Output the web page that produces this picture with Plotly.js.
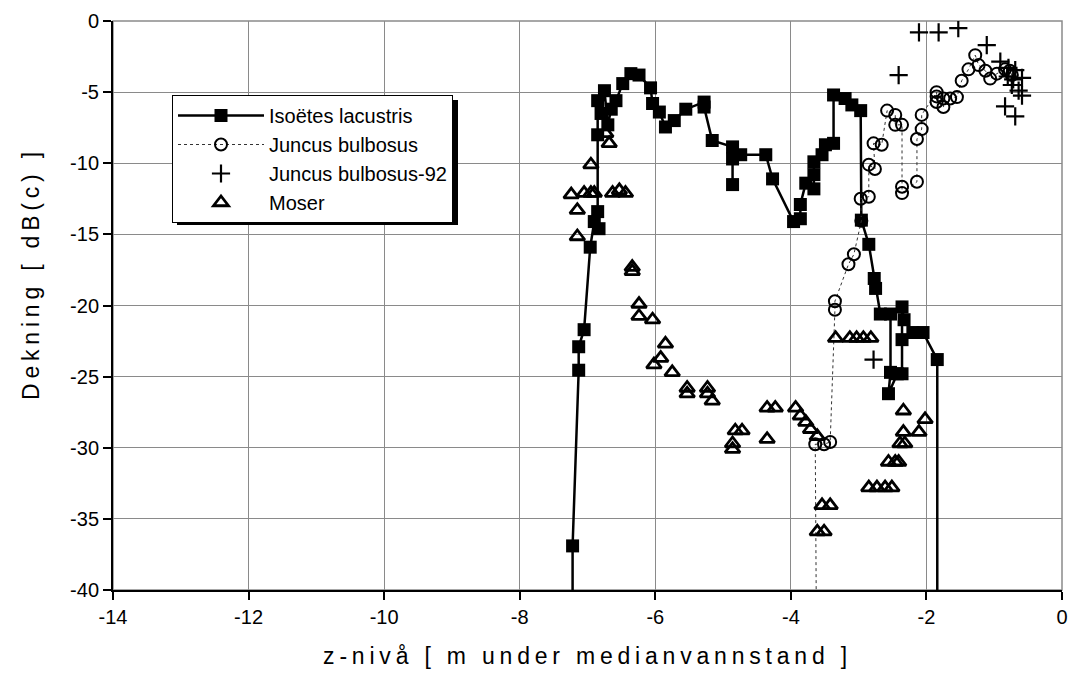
<!DOCTYPE html>
<html>
<head>
<meta charset="utf-8">
<script src="https://cdn.plot.ly/plotly-3.0.1.min.js"></script>
<style>
html,body{margin:0;padding:0;background:#fff;}
#chart{width:1074px;height:687px;}
#chart .xtitle, #chart .ytitle { letter-spacing: 4.8px; }
</style>
</head>
<body>
<div id="chart"></div>
<script>
// Isoëtes lacustris (filled squares, solid line)
const isoX = [-7.22,-7.22,-7.13,-7.13,-7.05,-6.96,-6.9,-6.83,-6.85,-6.85,-6.85,-6.8,-6.75,-6.7,-6.65,-6.58,-6.48,-6.36,-6.24,-6.07,-6.04,-5.94,-5.85,-5.72,-5.55,-5.28,-5.28,-5.16,-4.86,-4.86,-4.86,-4.74,-4.37,-4.27,-3.96,-3.86,-3.86,-3.78,-3.66,-3.66,-3.66,-3.54,-3.49,-3.37,-3.37,-3.2,-3.1,-2.97,-2.96,-2.85,-2.77,-2.75,-2.68,-2.53,-2.53,-2.56,-2.43,-2.36,-2.36,-2.36,-2.33,-2.2,-2.05,-1.84,-1.84];
const isoY = [-45,-36.9,-24.55,-22.9,-21.7,-15.9,-14.1,-14.6,-13.4,-8.0,-5.6,-6.5,-4.9,-7.3,-6.2,-5.6,-4.4,-3.7,-3.8,-4.7,-5.8,-6.4,-7.45,-7.0,-6.2,-5.7,-6.05,-8.4,-8.85,-11.5,-9.7,-9.4,-9.4,-11.1,-14.1,-13.9,-12.9,-11.4,-11.8,-10.8,-9.9,-9.4,-8.7,-8.6,-5.2,-5.45,-5.9,-6.3,-14.0,-15.7,-18.1,-18.8,-20.6,-20.6,-24.7,-26.2,-24.8,-24.8,-22.4,-20.1,-21.0,-21.9,-21.9,-23.8,-45];

// Juncus bulbosus (open circles, dotted line)
const jbX = [-3.62,-3.64,-3.51,-3.42,-3.35,-3.35,-3.15,-3.07,-2.96,-2.97,-2.85,-2.85,-2.76,-2.78,-2.66,-2.58,-2.46,-2.46,-2.36,-2.36,-2.36,-2.14,-2.14,-2.07,-2.07,-1.85,-1.85,-1.85,-1.75,-1.75,-1.65,-1.55,-1.48,-1.38,-1.28,-1.23,-1.13,-1.06,-0.96,-0.84,-0.77,-0.74];
const jbY = [-45,-29.75,-29.75,-29.6,-20.3,-19.7,-17.1,-16.4,-14.05,-12.5,-12.35,-10.1,-10.4,-8.6,-8.7,-6.3,-6.6,-7.3,-7.3,-11.65,-12.1,-11.3,-8.3,-7.6,-6.6,-5.0,-5.3,-5.7,-5.45,-6.05,-5.45,-5.35,-4.2,-3.4,-2.4,-3.1,-3.5,-4.05,-3.7,-3.4,-3.5,-3.8];

// Juncus bulbosus-92 (plus markers)
const jb92X = [-2.78,-2.41,-2.11,-1.82,-1.53,-1.11,-0.91,-0.79,-0.69,-0.8,-0.72,-0.59,-0.74,-0.64,-0.59,-0.84,-0.69];
const jb92Y = [-23.8,-3.8,-0.8,-0.8,-0.5,-1.7,-2.85,-3.3,-3.45,-3.9,-4.1,-4.0,-4.5,-4.9,-5.25,-6.0,-6.7];

// Moser (open triangles)
const mosX = [-7.24,-7.15,-7.15,-7.05,-6.95,-6.9,-6.95,-6.73,-6.68,-6.63,-6.53,-6.44,-6.34,-6.34,-6.24,-6.24,-6.04,-5.85,-5.92,-6.02,-5.75,-5.53,-5.53,-5.23,-5.23,-5.16,-4.86,-4.86,-4.82,-4.72,-4.35,-4.23,-4.35,-3.93,-3.86,-3.78,-3.71,-3.61,-3.54,-3.42,-3.61,-3.51,-3.34,-3.13,-3.03,-2.93,-2.82,-2.34,-2.02,-2.11,-2.34,-2.39,-2.32,-2.56,-2.46,-2.41,-2.85,-2.73,-2.61,-2.51];
const mosY = [-12.2,-13.3,-15.15,-12.1,-12.1,-12.1,-10.1,-7.9,-8.6,-12.1,-11.9,-12.1,-17.6,-17.3,-19.9,-20.75,-21.0,-22.7,-23.7,-24.15,-24.7,-25.8,-26.2,-25.8,-26.2,-26.7,-29.7,-30.1,-28.8,-28.8,-27.2,-27.2,-29.4,-27.2,-27.75,-28.2,-28.7,-29.2,-34.05,-34.05,-35.9,-35.9,-22.3,-22.3,-22.3,-22.3,-22.3,-27.4,-28.0,-28.9,-28.9,-29.7,-29.7,-31.0,-31.0,-31.0,-32.8,-32.8,-32.8,-32.8];

const seriesNames = ['Isoëtes lacustris','Juncus bulbosus','Juncus bulbosus-92','Moser'];
const xTickVals = [-14,-12,-10,-8,-6,-4,-2,0];
const xTickText = ['-14','-12','-10','-8','-6','-4','-2','0'];
const yTickVals = [0,-5,-10,-15,-20,-25,-30,-35,-40];
const yTickText = ['0','-5','-10','-15','-20','-25','-30','-35','-40'];

const FONT = 'Liberation Sans, Arial, sans-serif';

// plot-area geometry used to place the legend and its drop shadow
const ML = 113, MR = 12, MT = 21, MB = 97, W = 1074, H = 687;
const PW = W - ML - MR, PH = H - MT - MB;
const px2x = p => (p - ML) / PW;
const px2y = p => 1 - (p - MT) / PH;

const traces = [
  {x: isoX, y: isoY, name: seriesNames[0], type: 'scatter', mode: 'lines+markers', legendgroup: 'a',
   line: {color: '#000', width: 2.5}, marker: {symbol: 'square', size: 13, color: '#000'}},
  {x: jbX, y: jbY, name: seriesNames[1], type: 'scatter', mode: 'lines+markers', legendgroup: 'b',
   line: {color: '#333', width: 1, dash: 'dot'},
   marker: {symbol: 'circle-open', size: 12, color: '#000', line: {width: 2, color: '#000'}}},
  {x: jb92X, y: jb92Y, name: seriesNames[2], type: 'scatter', mode: 'markers', legendgroup: 'c',
   marker: {symbol: 'cross-thin-open', size: 13, color: '#000', line: {width: 2.2, color: '#000'}}},
  {x: mosX, y: mosY, name: seriesNames[3], type: 'scatter', mode: 'markers', legendgroup: 'd',
   marker: {symbol: 'triangle-up-open', size: 13, color: '#000', line: {width: 2.8, color: '#000'}}}
];

const layout = {
  width: W, height: H,
  margin: {l: ML, r: MR, t: MT, b: MB},
  paper_bgcolor: '#fff', plot_bgcolor: '#fff',
  font: {family: FONT, color: '#000', size: 19},
  showlegend: true,
  legend: {
    x: px2x(172), y: px2y(95), xanchor: 'left', yanchor: 'top',
    bgcolor: '#fff', bordercolor: '#000', borderwidth: 1,
    font: {family: FONT, size: 20, color: '#000'},
    traceorder: 'grouped', tracegroupgap: 0, itemwidth: 86
  },
  xaxis: {
    range: [-14, 0], tickvals: xTickVals, ticktext: xTickText,
    showgrid: true, gridcolor: '#8a8a8a', gridwidth: 1,
    zeroline: false, showline: true, linecolor: '#000', linewidth: 2,
    ticks: 'outside', ticklen: 8, tickcolor: '#000', tickwidth: 2,
    tickfont: {family: FONT, size: 20, color: '#000'},
    title: {text: 'z-nivå [ m under medianvannstand ]', font: {family: FONT, size: 23, color: '#000'}, standoff: 21}
  },
  yaxis: {
    range: [-40, 0], tickvals: yTickVals, ticktext: yTickText,
    showgrid: true, gridcolor: '#8a8a8a', gridwidth: 1,
    zeroline: false, showline: true, linecolor: '#000', linewidth: 2,
    ticks: 'outside', ticklen: 8, tickcolor: '#000', tickwidth: 2,
    tickfont: {family: FONT, size: 20, color: '#000'},
    title: {text: 'Dekning [ dB(c) ]', font: {family: FONT, size: 23, color: '#000'}, standoff: 24}
  },
  shapes: [
    {type: 'rect', xref: 'paper', yref: 'paper', x0: 0, x1: 1, y0: 0, y1: 1, layer: 'below',
     line: {color: '#8a8a8a', width: 1.5}},
    // legend drop shadow (right and bottom edges)
    {type: 'rect', xref: 'paper', yref: 'paper', x0: px2x(177), x1: px2x(458), y0: px2y(225), y1: px2y(100),
     layer: 'above', line: {width: 0}, fillcolor: '#000'}
  ]
};

Plotly.newPlot('chart', traces, layout, {displayModeBar: false, staticPlot: true}).then(gd => {
  // the reference places the y-axis title a little above the plot centre
  const yt = gd.querySelector('.ytitle');
  if (yt) yt.setAttribute('dx', 32);
});
</script>
</body>
</html>
